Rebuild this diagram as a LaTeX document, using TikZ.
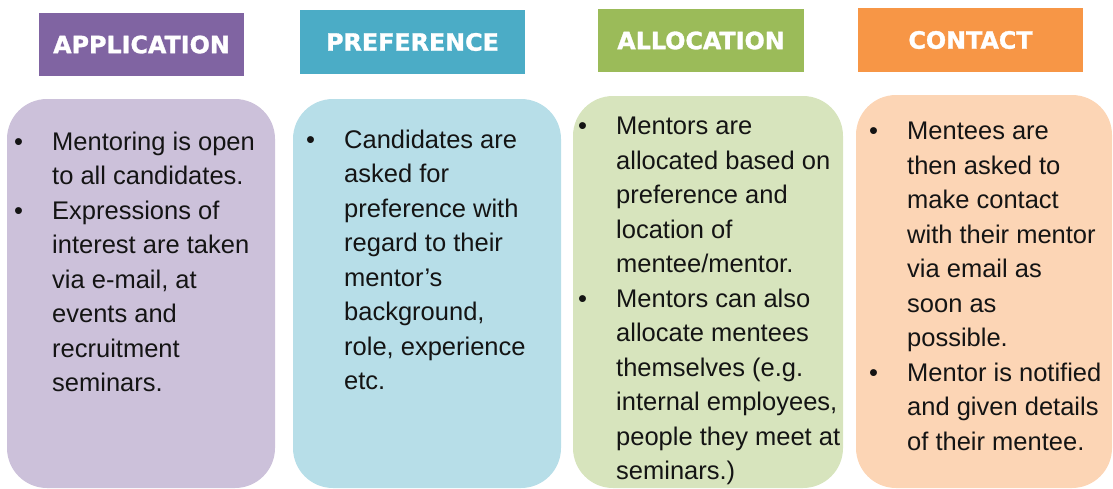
\documentclass[tikz,border=0pt]{standalone}
\usepackage{fontspec}
\setmainfont{Liberation Sans}
\newfontfamily\headfont{DejaVu Sans}[BoldFeatures={FakeBold=1.3}]
\usetikzlibrary{positioning}
\definecolor{appHead}{HTML}{8064A2}
\definecolor{appPanel}{HTML}{CCC1DA}
\definecolor{prefHead}{HTML}{4BACC6}
\definecolor{prefPanel}{HTML}{B7DEE8}
\definecolor{allocHead}{HTML}{9BBB59}
\definecolor{allocPanel}{HTML}{D7E4BD}
\definecolor{contHead}{HTML}{F79646}
\definecolor{contPanel}{HTML}{FCD5B5}
\newcommand\pts[1]{\begin{tabular}[t]{@{}p{38pt}@{}l@{}}#1\end{tabular}}
\tikzset{
  head/.style={fill=#1Head, text=white, inner sep=0pt,
    font=\headfont\bfseries\fontsize{23.8}{28}\selectfont},
  panel/.style={fill=#1Panel, rounded corners=40pt, inner sep=0pt},
  body/.style={anchor=base west, inner sep=0pt, text=black!92,
    font=\fontsize{25.5}{34.5}\selectfont}
}

\begin{document}
\begin{tikzpicture}[x=1pt,y=-1pt]
\useasboundingbox (0,0) rectangle (1113,488);
% panels behind the lists
\foreach \n/\x/\y/\w/\h in {%
  app/141/293.5/268/389,
  pref/427/293.5/268/389,
  alloc/708/292/270/392,
  cont/984/291.5/256/393%
} {
  \node[panel=\n, minimum width=\w, minimum height=\h] (p\n) at (\x,\y) {};
}
% step titles
\foreach \n/\x/\y/\w/\h/\t in {%
  app/141.5/44.5/205/63/APPLICATION,
  pref/412.5/42/225/64/PREFERENCE,
  alloc/701/40.5/206/63/ALLOCATION,
  cont/970.5/40/225/64/CONTACT%
} {
  \node[head=\n, minimum width=\w, minimum height=\h] (h\n) at (\x,\y) {\t};
}
% lists
\node[body] (tapp) at (14,150) {\pts{%
  \textbullet & Mentoring is open\\
  & to all candidates.\\
  \textbullet & Expressions of\\
  & interest are taken\\
  & via e-mail, at\\
  & events and\\
  & recruitment\\
  & seminars.}};
\node[body] (tpref) at (306,148) {\pts{%
  \textbullet & Candidates are\\
  & asked for\\
  & preference with\\
  & regard to their\\
  & mentor’s\\
  & background,\\
  & role, experience\\
  & etc.}};
\node[body] (talloc) at (578,134.5) {\pts{%
  \textbullet & Mentors are\\
  & allocated based on\\
  & preference and\\
  & location of\\
  & mentee/mentor.\\
  \textbullet & Mentors can also\\
  & allocate mentees\\
  & themselves (e.g.\\
  & internal employees,\\
  & people they meet at\\
  & seminars.)}};
\node[body] (tcont) at (869,139.5) {\pts{%
  \textbullet & Mentees are\\
  & then asked to\\
  & make contact\\
  & with their mentor\\
  & via email as\\
  & soon as\\
  & possible.\\
  \textbullet & Mentor is notified\\
  & and given details\\
  & of their mentee.}};
\end{tikzpicture}
\end{document}
